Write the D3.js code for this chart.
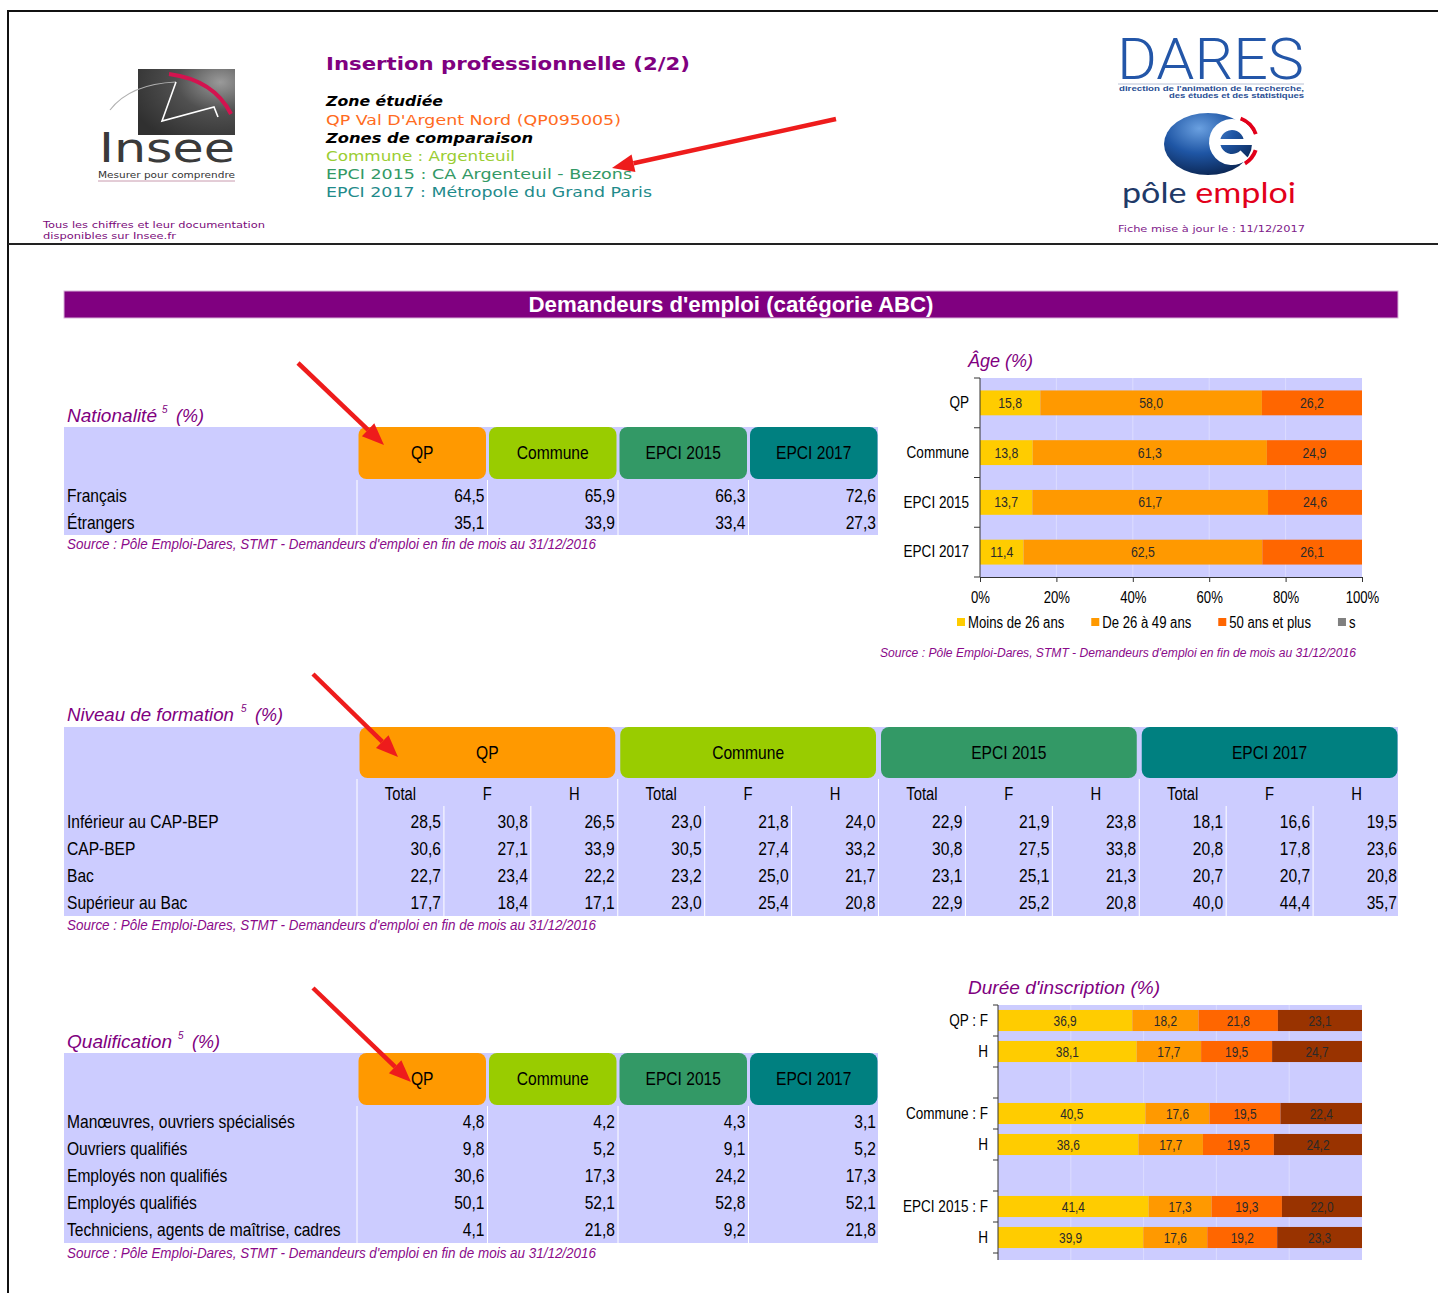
<!DOCTYPE html>
<html><head><meta charset="utf-8">
<script src="https://cdn.jsdelivr.net/npm/d3@7"></script>
<style>
html,body{margin:0;padding:0;background:#fff;}
svg{display:block;}
</style></head><body>
<svg id="c" width="1438" height="1293" font-family="'Liberation Sans',Arial,sans-serif"></svg>
<script>
// ---------------- DATA ----------------
const zoneCols = ["QP","Commune","EPCI 2015","EPCI 2017"];
const zoneColors = ["#ff9900","#99cc00","#339966","#008080"];

const natRows = ["Français","Étrangers"];
const natValues = [[64.5,65.9,66.3,72.6],[35.1,33.9,33.4,27.3]];

const formRows = ["Inférieur au CAP-BEP","CAP-BEP","Bac","Supérieur au Bac"];
const formSub = ["Total","F","H"];
const formValues = [
  [28.5,30.8,26.5, 23.0,21.8,24.0, 22.9,21.9,23.8, 18.1,16.6,19.5],
  [30.6,27.1,33.9, 30.5,27.4,33.2, 30.8,27.5,33.8, 20.8,17.8,23.6],
  [22.7,23.4,22.2, 23.2,25.0,21.7, 23.1,25.1,21.3, 20.7,20.7,20.8],
  [17.7,18.4,17.1, 23.0,25.4,20.8, 22.9,25.2,20.8, 40.0,44.4,35.7]
];

const qualRows = ["Manœuvres, ouvriers spécialisés","Ouvriers qualifiés","Employés non qualifiés","Employés qualifiés","Techniciens, agents de maîtrise, cadres"];
const qualValues = [[4.8,4.2,4.3,3.1],[9.8,5.2,9.1,5.2],[30.6,17.3,24.2,17.3],[50.1,52.1,52.8,52.1],[4.1,21.8,9.2,21.8]];

const ageCats = ["QP","Commune","EPCI 2015","EPCI 2017"];
const ageSeries = ["Moins de 26 ans","De 26 à 49 ans","50 ans et plus","s"];
const ageColors = ["#ffcc00","#ff9900","#ff6600","#808080"];
const ageValues = [[15.8,58.0,26.2,0],[13.8,61.3,24.9,0],[13.7,61.7,24.6,0],[11.4,62.5,26.1,0]];
const ageTicks = [0,20,40,60,80,100];

const dureeCats = ["QP : F","H","","Commune : F","H","","EPCI 2015 : F","H"];
const dureeColors = ["#ffcc00","#ff9900","#ff6600","#993300"];
const dureeValues = [[36.9,18.2,21.8,23.1],[38.1,17.7,19.5,24.7],null,[40.5,17.6,19.5,22.4],[38.6,17.7,19.5,24.2],null,[41.4,17.3,19.3,22.0],[39.9,17.6,19.2,23.3]];
const dureeTicks = [0,20,40,60,80,100];

const sourceText = "Source : Pôle Emploi-Dares, STMT - Demandeurs d'emploi en fin de mois au 31/12/2016";

// ---------------- SETUP ----------------
const PURPLE = "#800080", LAV = "#ccccff";
const DV = "'DejaVu Sans',Verdana,sans-serif";
const fmt = d3.formatLocale({decimal:",",thousands:" ",grouping:[3],currency:["","€"]}).format(".1f");

const svg = d3.select("#c");
function T(x,y,s,o={}){
  const t = svg.append("text").attr("x",x).attr("y",y).text(s);
  for (const k in o) t.attr(k,o[k]);
  return t;
}
// emulate a narrow (condensed) face by squeezing glyphs horizontally
const NR = 0.82;
function narrowify(sel){
  sel.each(function(){
    const w = this.getComputedTextLength();
    if (w>0){ this.setAttribute("textLength", (w*NR).toFixed(2)); this.setAttribute("lengthAdjust","spacingAndGlyphs"); this.__nw = w*NR; }
  });
  return sel;
}
function N(x,y,s,size,o={}){
  const t = T(x,y,s,Object.assign({"font-size":size,"fill":"#000"},o));
  narrowify(t);
  return t;
}
function arrow(x1,y1,x2,y2){
  const a=Math.atan2(y2-y1,x2-x1), L=22, W=9;
  const bx=x2-L*Math.cos(a), by=y2-L*Math.sin(a);
  svg.append("line").attr("x1",x1).attr("y1",y1).attr("x2",bx).attr("y2",by)
    .attr("stroke","#ee1c1c").attr("stroke-width",4.5);
  svg.append("polygon").attr("fill","#ee1c1c")
    .attr("points",[[x2,y2],[bx+W*Math.sin(a),by-W*Math.cos(a)],[bx-W*Math.sin(a),by+W*Math.cos(a)]].map(p=>p.join(",")).join(" "));
}

const defs = svg.append("defs");
const ig = defs.append("radialGradient").attr("id","ig").attr("cx","0.85").attr("cy","0.2").attr("r","1");
ig.append("stop").attr("offset","0").attr("stop-color","#9a9a9a");
ig.append("stop").attr("offset","0.45").attr("stop-color","#505050");
ig.append("stop").attr("offset","1").attr("stop-color","#303030");
const pg = defs.append("radialGradient").attr("id","pg").attr("cx","0.4").attr("cy","0.25").attr("r","0.8");
pg.append("stop").attr("offset","0").attr("stop-color","#6aa0e0");
pg.append("stop").attr("offset","0.5").attr("stop-color","#1f56a5");
pg.append("stop").attr("offset","1").attr("stop-color","#0a2450");

// ---------------- FRAME ----------------
svg.append("line").attr("x1",7).attr("x2",1438).attr("y1",11).attr("y2",11).attr("stroke","#111").attr("stroke-width",2);
svg.append("line").attr("x1",8).attr("x2",8).attr("y1",10).attr("y2",1293).attr("stroke","#111").attr("stroke-width",2);
svg.append("line").attr("x1",8).attr("x2",1438).attr("y1",244).attr("y2",244).attr("stroke","#222").attr("stroke-width",2);

// ---------------- HEADER LEFT (Insee) ----------------
svg.append("rect").attr("x",138).attr("y",69).attr("width",97).attr("height",66).attr("fill","url(#ig)");
svg.append("path").attr("d","M110,110 Q130,84 176,82").attr("fill","none").attr("stroke","#b0b0b0").attr("stroke-width",1.2);
svg.append("path").attr("d","M169,74 Q214,80 231,114").attr("fill","none").attr("stroke","#d3134f").attr("stroke-width",4);
svg.append("path").attr("d","M176,82 L162,121 L214,107 L218,117").attr("fill","none").attr("stroke","#fff").attr("stroke-width",1.6);
T(99,161.5,"Insee",{"font-size":40,"font-family":DV,"fill":"#3a3a3a","textLength":136,"lengthAdjust":"spacingAndGlyphs"});
T(98,178,"Mesurer pour comprendre",{"font-size":8,"font-family":DV,"fill":"#333","textLength":137,"lengthAdjust":"spacingAndGlyphs"});
svg.append("line").attr("x1",98).attr("x2",235).attr("y1",181).attr("y2",181).attr("stroke","#c89aae");
T(43,228,"Tous les chiffres et leur documentation",{"font-size":9.5,"font-family":DV,"fill":"#7a0a7a","textLength":222,"lengthAdjust":"spacingAndGlyphs"});
T(43,239,"disponibles sur Insee.fr",{"font-size":9.5,"font-family":DV,"fill":"#7a0a7a","textLength":133,"lengthAdjust":"spacingAndGlyphs"});

// ---------------- HEADER MIDDLE ----------------
T(326,70,"Insertion professionnelle (2/2)",{"font-size":17,"font-family":DV,"font-weight":"bold","fill":PURPLE,"textLength":364,"lengthAdjust":"spacingAndGlyphs"});
T(326,106,"Zone étudiée",{"font-size":14.5,"font-family":DV,"font-weight":"bold","font-style":"italic","fill":"#000","textLength":117,"lengthAdjust":"spacingAndGlyphs"});
T(326,125,"QP Val D'Argent Nord (QP095005)",{"font-size":14.5,"font-family":DV,"fill":"#ff6b21","textLength":295,"lengthAdjust":"spacingAndGlyphs"});
T(326,143,"Zones de comparaison",{"font-size":14.5,"font-family":DV,"font-weight":"bold","font-style":"italic","fill":"#000","textLength":207,"lengthAdjust":"spacingAndGlyphs"});
T(326,161,"Commune : Argenteuil",{"font-size":14.5,"font-family":DV,"fill":"#9acd32","textLength":189,"lengthAdjust":"spacingAndGlyphs"});
T(326,179,"EPCI 2015 : CA Argenteuil - Bezons",{"font-size":14.5,"font-family":DV,"fill":"#339966","textLength":306,"lengthAdjust":"spacingAndGlyphs"});
T(326,197,"EPCI 2017 : Métropole du Grand Paris",{"font-size":14.5,"font-family":DV,"fill":"#1f8b8b","textLength":326,"lengthAdjust":"spacingAndGlyphs"});
arrow(836,119,612,168);

// ---------------- HEADER RIGHT (DARES / Pôle emploi) ----------------
T(0,0,"DARES",{"transform":"translate(1117,79) scale(1,1.38)","font-size":42,"font-family":"Roboto,Lato,'Liberation Sans',sans-serif","font-weight":300,"fill":"#2356a8","textLength":187,"lengthAdjust":"spacingAndGlyphs"});
svg.append("line").attr("x1",1118).attr("x2",1304).attr("y1",84).attr("y2",84).attr("stroke","#b8c0d4");
T(1304,91,"direction de l'animation de la recherche,",{"font-size":7,"font-weight":"bold","fill":"#2a4f95","text-anchor":"end","textLength":185,"lengthAdjust":"spacingAndGlyphs"});
T(1304,98,"des études et des statistiques",{"font-size":7,"font-weight":"bold","fill":"#2a4f95","text-anchor":"end","textLength":135,"lengthAdjust":"spacingAndGlyphs"});
svg.append("ellipse").attr("cx",1208).attr("cy",144).attr("rx",44).attr("ry",31).attr("fill","url(#pg)");
const eG = svg.append("g").attr("transform","translate(1232,142)");
eG.append("path").attr("d",d3.arc().innerRadius(23).outerRadius(27).startAngle(0.35).endAngle(1.25)()).attr("fill","#e2001a");
eG.append("path").attr("d",d3.arc().innerRadius(23).outerRadius(27).startAngle(1.9).endAngle(2.6)()).attr("fill","#e2001a");
eG.append("path").attr("d",d3.arc().innerRadius(12).outerRadius(23).startAngle(2.35).endAngle(2*Math.PI+Math.PI/2)()).attr("fill","#fff");
eG.append("rect").attr("x",-13).attr("y",-3).attr("width",36).attr("height",6).attr("fill","#fff");
const pe = T(1122,203,"",{"font-size":29,"font-family":"Lato,'Liberation Sans',sans-serif","textLength":174,"lengthAdjust":"spacingAndGlyphs"});
pe.append("tspan").attr("fill","#1f3a68").text("pôle ");
pe.append("tspan").attr("fill","#e2001a").text("emploi");
T(1118,232,"Fiche mise à jour le : 11/12/2017",{"font-size":9.5,"font-family":DV,"fill":"#80208a","textLength":187,"lengthAdjust":"spacingAndGlyphs"});

// ---------------- TITLE BAR ----------------
svg.append("rect").attr("x",64).attr("y",291).attr("width",1334).attr("height",27).attr("fill","#800080").attr("stroke","#d9b3d9").attr("stroke-width",1);
T(731,312,"Demandeurs d'emploi (catégorie ABC)",{"font-size":22,"font-weight":"bold","fill":"#fff","text-anchor":"middle","textLength":405,"lengthAdjust":"spacingAndGlyphs"});

// ---------------- helpers ----------------
function heading(x,y,main,len,supX,tailX,tailLen){
  T(x,y,main,{"font-size":19,"font-style":"italic","fill":PURPLE,"textLength":len,"lengthAdjust":"spacingAndGlyphs"});
  if(supX){
    T(supX,y-9,"5",{"font-size":10,"font-style":"italic","fill":PURPLE});
    T(tailX,y,"(%)",{"font-size":19,"font-style":"italic","fill":PURPLE,"textLength":tailLen,"lengthAdjust":"spacingAndGlyphs"});
  }
}
function source(x,y,len,size){
  T(x,y,sourceText,{"font-size":size,"font-style":"italic","fill":"#8a0a8a","textLength":len,"lengthAdjust":"spacingAndGlyphs"});
}
function headerCells(xs,y,h,inset){
  zoneCols.forEach((c,i)=>{
    svg.append("rect").attr("x",xs(c)+inset).attr("y",y).attr("width",xs.bandwidth()-2*inset).attr("height",h)
      .attr("rx",8).attr("fill",zoneColors[i]);
    N(xs(c)+xs.bandwidth()/2,y+32,c,19,{"text-anchor":"middle"});
  });
}

// ---------------- NATIONALITE ----------------
heading(67,422,"Nationalité",90,162,176,28);
const natX = d3.scaleBand().domain(zoneCols).range([357,879]);
const natY = d3.scaleBand().domain(natRows).range([481,535]);
svg.append("rect").attr("x",64).attr("y",427).attr("width",814).attr("height",108).attr("fill",LAV);
headerCells(natX,427,52,1.5);
zoneCols.forEach(c=>svg.append("line").attr("x1",natX(c)).attr("x2",natX(c)).attr("y1",480).attr("y2",535).attr("stroke","#fff"));
natRows.forEach((r,ri)=>{
  N(67,natY(r)+21,r,19);
  zoneCols.forEach((c,ci)=>N(natX(c)+natX.bandwidth()-3,natY(r)+21,fmt(natValues[ri][ci]),19,{"text-anchor":"end"}));
});
source(67,549,529,14);
arrow(298,363,384,445);

// ---------------- NIVEAU DE FORMATION ----------------
heading(67,721,"Niveau de formation",167,241,255,28);
const grpX = d3.scaleBand().domain(zoneCols).range([357,1400]);
const subX = d3.scaleBand().domain(formSub).range([0,grpX.bandwidth()]);
const formY = d3.scaleBand().domain(formRows).range([807,915]);
svg.append("rect").attr("x",64).attr("y",727).attr("width",1334).attr("height",189).attr("fill",LAV);
headerCells(grpX,727,51,2.5);
zoneCols.forEach((g,gi)=>{
  svg.append("line").attr("x1",grpX(g)).attr("x2",grpX(g)).attr("y1",779).attr("y2",916).attr("stroke","#fff");
  formSub.forEach((s,si)=>{
    const x0 = grpX(g)+subX(s);
    N(x0+subX.bandwidth()/2,800,s,18,{"text-anchor":"middle"});
    if(si>0) svg.append("line").attr("x1",x0).attr("x2",x0).attr("y1",806).attr("y2",916).attr("stroke","#fff");
  });
});
formRows.forEach((r,ri)=>{
  N(67,formY(r)+21,r,19);
  zoneCols.forEach((g,gi)=>formSub.forEach((s,si)=>{
    N(grpX(g)+subX(s)+subX.bandwidth()-3,formY(r)+21,fmt(formValues[ri][gi*3+si]),19,{"text-anchor":"end"});
  }));
});
source(67,930,529,14);
arrow(313,674,398,757);

// ---------------- QUALIFICATION ----------------
heading(67,1048,"Qualification",105,178,192,28);
const qualY = d3.scaleBand().domain(qualRows).range([1107,1242]);
svg.append("rect").attr("x",64).attr("y",1053).attr("width",814).attr("height",190).attr("fill",LAV);
headerCells(natX,1053,52,1.5);
zoneCols.forEach(c=>svg.append("line").attr("x1",natX(c)).attr("x2",natX(c)).attr("y1",1106).attr("y2",1243).attr("stroke","#fff"));
qualRows.forEach((r,ri)=>{
  N(67,qualY(r)+21,r,19);
  zoneCols.forEach((c,ci)=>N(natX(c)+natX.bandwidth()-3,qualY(r)+21,fmt(qualValues[ri][ci]),19,{"text-anchor":"end"}));
});
source(67,1258,529,14);
arrow(313,988,411,1082);

// ---------------- AGE CHART ----------------
heading(968,367,"Âge (%)",65);
const ax = d3.scaleLinear().domain([0,100]).range([980,1362]);
const ay = d3.scaleBand().domain(ageCats).range([378,577]).paddingInner(0.5).paddingOuter(0.25);
svg.append("rect").attr("x",ax(0)).attr("y",378).attr("width",ax(100)-ax(0)).attr("height",199).attr("fill",LAV);
ageTicks.slice(1,-1).forEach(t=>svg.append("line").attr("x1",ax(t)).attr("x2",ax(t)).attr("y1",378).attr("y2",577).attr("stroke","#dcdcff"));
const ageStack = d3.stack().keys([0,1,2,3]).value((d,k)=>d[k])(ageValues);
ageStack.forEach((ser,si)=>{
  ser.forEach((d,ci)=>{
    if(d[1]-d[0]<=0) return;
    svg.append("rect").attr("x",ax(d[0])).attr("y",ay(ageCats[ci])).attr("width",ax(d[1])-ax(d[0])).attr("height",ay.bandwidth()).attr("fill",ageColors[si]);
    N((ax(d[0])+ax(d[1]))/2,ay(ageCats[ci])+ay.bandwidth()/2+5,fmt(d[1]-d[0]),15,{"text-anchor":"middle","fill":"#2a2a2a"});
  });
});
// left axis
const ayAxis = svg.append("g").attr("transform","translate(980,0)").call(d3.axisLeft(ay).tickSize(0).tickPadding(11));
ayAxis.select(".domain").remove();
ayAxis.attr("font-family",null);
ayAxis.selectAll("text").attr("font-size",16.5).attr("fill","#000").call(narrowify);
svg.append("line").attr("x1",980).attr("x2",980).attr("y1",378).attr("y2",577).attr("stroke","#333");
d3.range(ageCats.length+1).forEach(i=>{
  const yb = 378 + i*ay.step();
  svg.append("line").attr("x1",974).attr("x2",980).attr("y1",yb).attr("y2",yb).attr("stroke","#333");
});
const axAxis = svg.append("g").attr("transform","translate(0,577)")
  .call(d3.axisBottom(ax).tickValues(ageTicks).tickFormat(d=>d+"%").tickSize(5).tickSizeOuter(0).tickPadding(10));
axAxis.attr("font-family",null);
axAxis.select(".domain").attr("stroke","#333");
axAxis.selectAll("line").attr("stroke","#333");
axAxis.selectAll("text").attr("font-size",16).attr("fill","#000").call(narrowify);
// legend
let lx = 957;
ageSeries.forEach((s,i)=>{
  svg.append("rect").attr("x",lx).attr("y",618).attr("width",8).attr("height",8).attr("fill",ageColors[i]);
  const t = N(lx+11,628,s,16);
  lx += 11 + t.node().__nw + 27;
});
source(880,657,476,12.5);

// ---------------- DUREE CHART ----------------
heading(968,994,"Durée d'inscription (%)",192);
const dx = d3.scaleLinear().domain([0,100]).range([998,1362]);
const dIdx = dureeCats.map((c,i)=>i);
const dy = d3.scaleBand().domain(dIdx).range([1005,1253]).paddingInner(0.32).paddingOuter(0.16);
svg.append("rect").attr("x",dx(0)).attr("y",1005).attr("width",dx(100)-dx(0)).attr("height",255).attr("fill",LAV);
dureeTicks.slice(1,-1).forEach(t=>svg.append("line").attr("x1",dx(t)).attr("x2",dx(t)).attr("y1",1005).attr("y2",1260).attr("stroke","#dcdcff"));
dureeValues.forEach((row,ri)=>{
  if(!row) return;
  const cum = d3.cumsum(row);
  row.forEach((v,si)=>{
    const x0 = dx(cum[si]-v), x1 = dx(cum[si]);
    svg.append("rect").attr("x",x0).attr("y",dy(ri)).attr("width",x1-x0).attr("height",dy.bandwidth()).attr("fill",dureeColors[si]);
    N((x0+x1)/2,dy(ri)+dy.bandwidth()/2+5,fmt(v),14.5,{"text-anchor":"middle","fill":"#2a2a2a"});
  });
});
const dyAxis = svg.append("g").attr("transform","translate(998,0)").call(d3.axisLeft(dy).tickSize(0).tickPadding(10).tickFormat(i=>dureeCats[i]));
dyAxis.attr("font-family",null);
dyAxis.select(".domain").remove();
dyAxis.selectAll("text").attr("font-size",16.5).attr("fill","#000").call(narrowify);
svg.append("line").attr("x1",998).attr("x2",998).attr("y1",1005).attr("y2",1260).attr("stroke","#333");
d3.range(dureeCats.length+1).forEach(i=>{
  const yb = 1005 + i*dy.step();
  svg.append("line").attr("x1",993).attr("x2",998).attr("y1",yb).attr("y2",yb).attr("stroke","#333");
});
</script></body></html>
